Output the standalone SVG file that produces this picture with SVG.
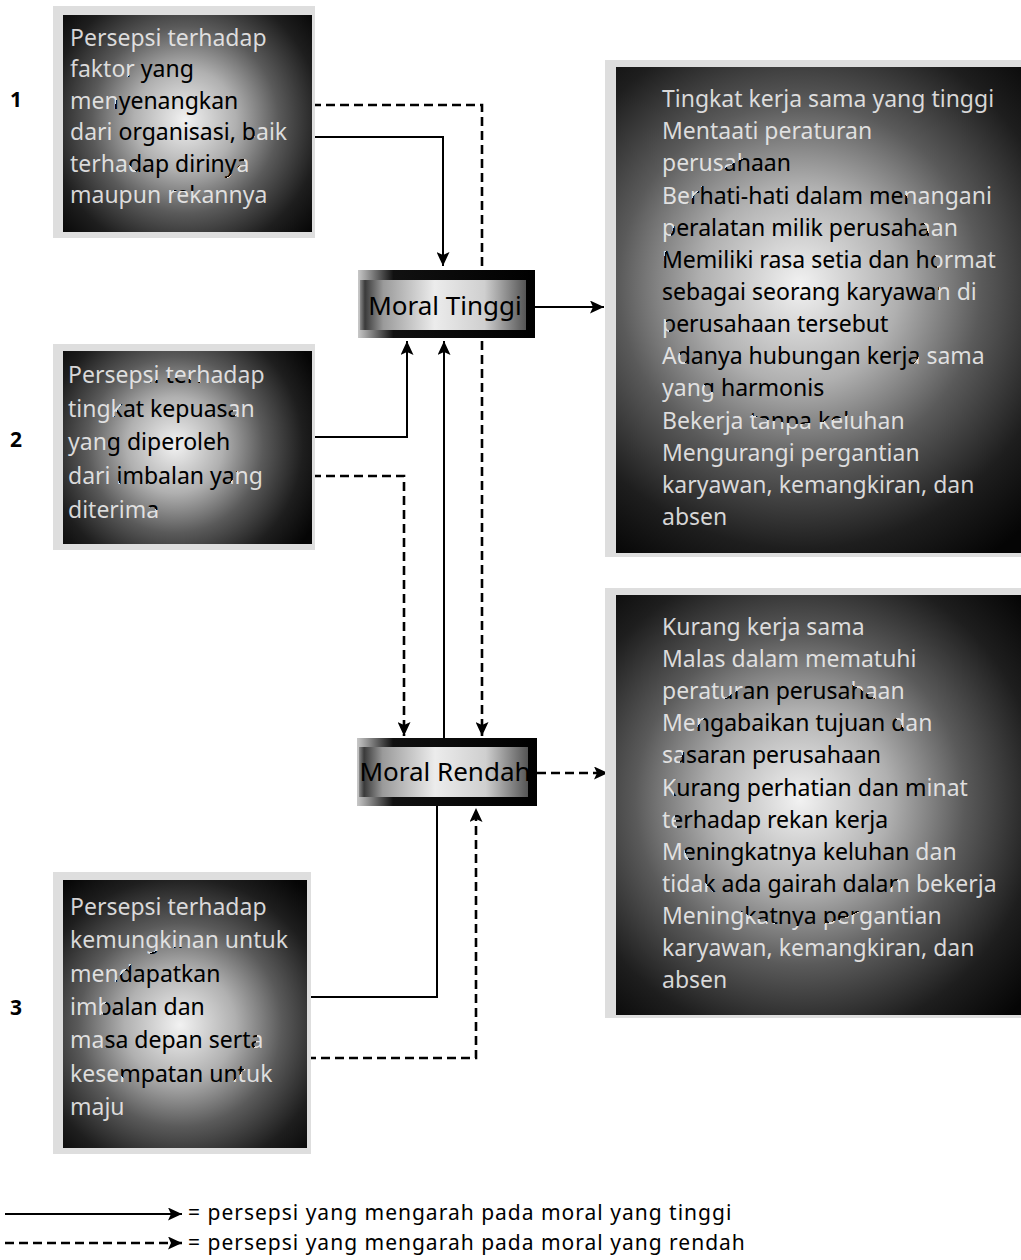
<svg xmlns="http://www.w3.org/2000/svg" width="1021" height="1260" viewBox="0 0 1021 1260">
<style>
.bt{font-family:"Noto Sans","Open Sans",sans-serif;font-size:23px;}
.num{font-family:"Noto Sans","Open Sans",sans-serif;font-size:21px;font-weight:bold;fill:#000;}
.mt{font-family:"Noto Sans","Open Sans",sans-serif;font-size:26px;fill:#000;text-anchor:middle;}
.halo{fill:#dedede;}
.conn{fill:none;stroke:#000;stroke-width:2;}
.dash{stroke-width:2.6;stroke-dasharray:9 5;}
.lg{font-family:"Noto Sans","Open Sans",sans-serif;font-size:21px;letter-spacing:1px;fill:#000;}
</style>
<defs>
<marker id="ah" markerUnits="userSpaceOnUse" markerWidth="15" markerHeight="13" refX="14" refY="6.5" orient="auto">
<path d="M0,0 L14,6.5 L0,13 L3,6.5 z" fill="#000"/>
</marker>
<radialGradient id="bg1" gradientUnits="userSpaceOnUse" cx="185" cy="120" r="170">
<stop offset="0" stop-color="#f2f2f2"/><stop offset="0.3" stop-color="#b0b0b0"/><stop offset="0.55" stop-color="#5a5a5a"/><stop offset="0.8" stop-color="#1e1e1e"/><stop offset="1" stop-color="#050505"/>
</radialGradient>
<radialGradient id="tx1" gradientUnits="userSpaceOnUse" cx="185" cy="120" r="170">
<stop offset="0" stop-color="#000"/><stop offset="0.42" stop-color="#000"/><stop offset="0.42" stop-color="#e2e2e2"/><stop offset="1" stop-color="#cfcfcf"/>
</radialGradient>
<radialGradient id="bg2" gradientUnits="userSpaceOnUse" cx="175" cy="445" r="160">
<stop offset="0" stop-color="#f2f2f2"/><stop offset="0.3" stop-color="#b0b0b0"/><stop offset="0.55" stop-color="#5a5a5a"/><stop offset="0.8" stop-color="#1e1e1e"/><stop offset="1" stop-color="#050505"/>
</radialGradient>
<radialGradient id="tx2" gradientUnits="userSpaceOnUse" cx="175" cy="445" r="160">
<stop offset="0" stop-color="#000"/><stop offset="0.42" stop-color="#000"/><stop offset="0.42" stop-color="#e2e2e2"/><stop offset="1" stop-color="#cfcfcf"/>
</radialGradient>
<radialGradient id="bg3" gradientUnits="userSpaceOnUse" cx="180" cy="1025" r="185">
<stop offset="0" stop-color="#f2f2f2"/><stop offset="0.3" stop-color="#b0b0b0"/><stop offset="0.55" stop-color="#5a5a5a"/><stop offset="0.8" stop-color="#1e1e1e"/><stop offset="1" stop-color="#050505"/>
</radialGradient>
<radialGradient id="tx3" gradientUnits="userSpaceOnUse" cx="180" cy="1025" r="185">
<stop offset="0" stop-color="#000"/><stop offset="0.42" stop-color="#000"/><stop offset="0.42" stop-color="#e2e2e2"/><stop offset="1" stop-color="#cfcfcf"/>
</radialGradient>
<radialGradient id="bg4" gradientUnits="userSpaceOnUse" cx="800" cy="285" r="330">
<stop offset="0" stop-color="#f2f2f2"/><stop offset="0.3" stop-color="#b0b0b0"/><stop offset="0.55" stop-color="#5a5a5a"/><stop offset="0.8" stop-color="#1e1e1e"/><stop offset="1" stop-color="#050505"/>
</radialGradient>
<radialGradient id="tx4" gradientUnits="userSpaceOnUse" cx="800" cy="285" r="330">
<stop offset="0" stop-color="#000"/><stop offset="0.42" stop-color="#000"/><stop offset="0.42" stop-color="#e2e2e2"/><stop offset="1" stop-color="#cfcfcf"/>
</radialGradient>
<radialGradient id="bg5" gradientUnits="userSpaceOnUse" cx="800" cy="800" r="300">
<stop offset="0" stop-color="#f2f2f2"/><stop offset="0.3" stop-color="#b0b0b0"/><stop offset="0.55" stop-color="#5a5a5a"/><stop offset="0.8" stop-color="#1e1e1e"/><stop offset="1" stop-color="#050505"/>
</radialGradient>
<radialGradient id="tx5" gradientUnits="userSpaceOnUse" cx="800" cy="800" r="300">
<stop offset="0" stop-color="#000"/><stop offset="0.42" stop-color="#000"/><stop offset="0.42" stop-color="#e2e2e2"/><stop offset="1" stop-color="#cfcfcf"/>
</radialGradient>
<linearGradient id="mframe" x1="0" y1="0" x2="1" y2="0">
<stop offset="0" stop-color="#c8c8c8"/><stop offset="0.2" stop-color="#111"/><stop offset="1" stop-color="#000"/>
</linearGradient>
<linearGradient id="minner" x1="0" y1="0" x2="1" y2="0">
<stop offset="0" stop-color="#8a8a8a"/><stop offset="0.03" stop-color="#3a3a3a"/><stop offset="0.14" stop-color="#9a9a9a"/><stop offset="0.45" stop-color="#ececec"/><stop offset="0.75" stop-color="#cfcfcf"/><stop offset="1" stop-color="#555"/>
</linearGradient>
</defs>
<rect x="0" y="0" width="1021" height="1260" fill="#fff"/>

<g id="connectors">
<path class="conn" d="M312,137 H443 V266" marker-end="url(#ah)"/>
<path class="conn dash" d="M312,105 H482 V736" marker-end="url(#ah)"/>
<path class="conn" d="M312,437 H407 V341" marker-end="url(#ah)"/>
<path class="conn dash" d="M312,476 H404 V736" marker-end="url(#ah)"/>
<path class="conn" d="M444,738 V341" marker-end="url(#ah)"/>
<path class="conn" d="M307,997 H437 V806"/>
<path class="conn dash" d="M307,1058 H476 V808" marker-end="url(#ah)"/>
<path class="conn" d="M535,307 H604" marker-end="url(#ah)"/>
<path class="conn dash" d="M537,773 H608" marker-end="url(#ah)"/>
</g>

<g id="labels-num">
<text class="num" x="10" y="107">1</text>
<text class="num" x="10" y="447">2</text>
<text class="num" x="10" y="1015">3</text>
</g>

<g id="node-persepsi-1">
<rect class="halo" x="53" y="6" width="262" height="232"/>
<rect x="63" y="15" width="249" height="217" fill="url(#bg1)"/>
<text class="bt" fill="url(#tx1)">
<tspan x="70" y="46">Persepsi terhadap</tspan>
<tspan x="70" y="77">faktor yang</tspan>
<tspan x="70" y="109">menyenangkan</tspan>
<tspan x="70" y="140">dari organisasi, baik</tspan>
<tspan x="70" y="172">terhadap dirinya</tspan>
<tspan x="70" y="203">maupun rekannya</tspan>
</text>
</g>

<g id="node-persepsi-2">
<rect class="halo" x="53" y="344" width="262" height="206"/>
<rect x="63" y="351" width="249" height="193" fill="url(#bg2)"/>
<text class="bt" fill="url(#tx2)">
<tspan x="68" y="383">Persepsi terhadap</tspan>
<tspan x="68" y="417">tingkat kepuasan</tspan>
<tspan x="68" y="450">yang diperoleh</tspan>
<tspan x="68" y="484">dari imbalan yang</tspan>
<tspan x="68" y="518">diterima</tspan>
</text>
</g>

<g id="node-persepsi-3">
<rect class="halo" x="53" y="872" width="258" height="282"/>
<rect x="63" y="880" width="244" height="268" fill="url(#bg3)"/>
<text class="bt" fill="url(#tx3)">
<tspan x="70" y="915">Persepsi terhadap</tspan>
<tspan x="70" y="948">kemungkinan untuk</tspan>
<tspan x="70" y="982">mendapatkan</tspan>
<tspan x="70" y="1015">imbalan dan</tspan>
<tspan x="70" y="1048">masa depan serta</tspan>
<tspan x="70" y="1082">kesempatan untuk</tspan>
<tspan x="70" y="1115">maju</tspan>
</text>
</g>

<g id="node-moral-tinggi">
<rect x="358" y="270" width="177" height="68" fill="url(#mframe)"/>
<rect x="360" y="280" width="166" height="50" fill="url(#minner)"/>
<text class="mt" x="445" y="315">Moral Tinggi</text>
</g>

<g id="node-moral-rendah">
<rect x="357" y="738" width="180" height="68" fill="url(#mframe)"/>
<rect x="359" y="747" width="169" height="50" fill="url(#minner)"/>
<text class="mt" x="445" y="781">Moral Rendah</text>
</g>

<g id="node-hasil-tinggi">
<rect class="halo" x="605" y="60" width="416" height="497"/>
<rect x="616" y="67" width="405" height="486" fill="url(#bg4)"/>
<text class="bt" fill="url(#tx4)">
<tspan x="662" y="107">Tingkat kerja sama yang tinggi</tspan>
<tspan x="662" y="139">Mentaati peraturan</tspan>
<tspan x="662" y="171">perusahaan</tspan>
<tspan x="662" y="204">Berhati-hati dalam menangani</tspan>
<tspan x="662" y="236">peralatan milik perusahaan</tspan>
<tspan x="662" y="268">Memiliki rasa setia dan hormat</tspan>
<tspan x="662" y="300">sebagai seorang karyawan di</tspan>
<tspan x="662" y="332">perusahaan tersebut</tspan>
<tspan x="662" y="364">Adanya hubungan kerja sama</tspan>
<tspan x="662" y="396">yang harmonis</tspan>
<tspan x="662" y="429">Bekerja tanpa keluhan</tspan>
<tspan x="662" y="461">Mengurangi pergantian</tspan>
<tspan x="662" y="493">karyawan, kemangkiran, dan</tspan>
<tspan x="662" y="525">absen</tspan>
</text>
</g>

<g id="node-hasil-rendah">
<rect class="halo" x="605" y="588" width="416" height="430"/>
<rect x="616" y="595" width="405" height="420" fill="url(#bg5)"/>
<text class="bt" fill="url(#tx5)">
<tspan x="662" y="635">Kurang kerja sama</tspan>
<tspan x="662" y="667">Malas dalam mematuhi</tspan>
<tspan x="662" y="699">peraturan perusahaan</tspan>
<tspan x="662" y="731">Mengabaikan tujuan dan</tspan>
<tspan x="662" y="763">sasaran perusahaan</tspan>
<tspan x="662" y="796">Kurang perhatian dan minat</tspan>
<tspan x="662" y="828">terhadap rekan kerja</tspan>
<tspan x="662" y="860">Meningkatnya keluhan dan</tspan>
<tspan x="662" y="892">tidak ada gairah dalam bekerja</tspan>
<tspan x="662" y="924">Meningkatnya pergantian</tspan>
<tspan x="662" y="956">karyawan, kemangkiran, dan</tspan>
<tspan x="662" y="988">absen</tspan>
</text>
</g>

<g id="legend">
<path class="conn" d="M5,1214 H182" marker-end="url(#ah)"/>
<path class="conn dash" d="M5,1243 H182" marker-end="url(#ah)"/>
<text class="lg" x="188" y="1220">= persepsi yang mengarah pada moral yang tinggi</text>
<text class="lg" x="188" y="1250">= persepsi yang mengarah pada moral yang rendah</text>
</g>
</svg>
